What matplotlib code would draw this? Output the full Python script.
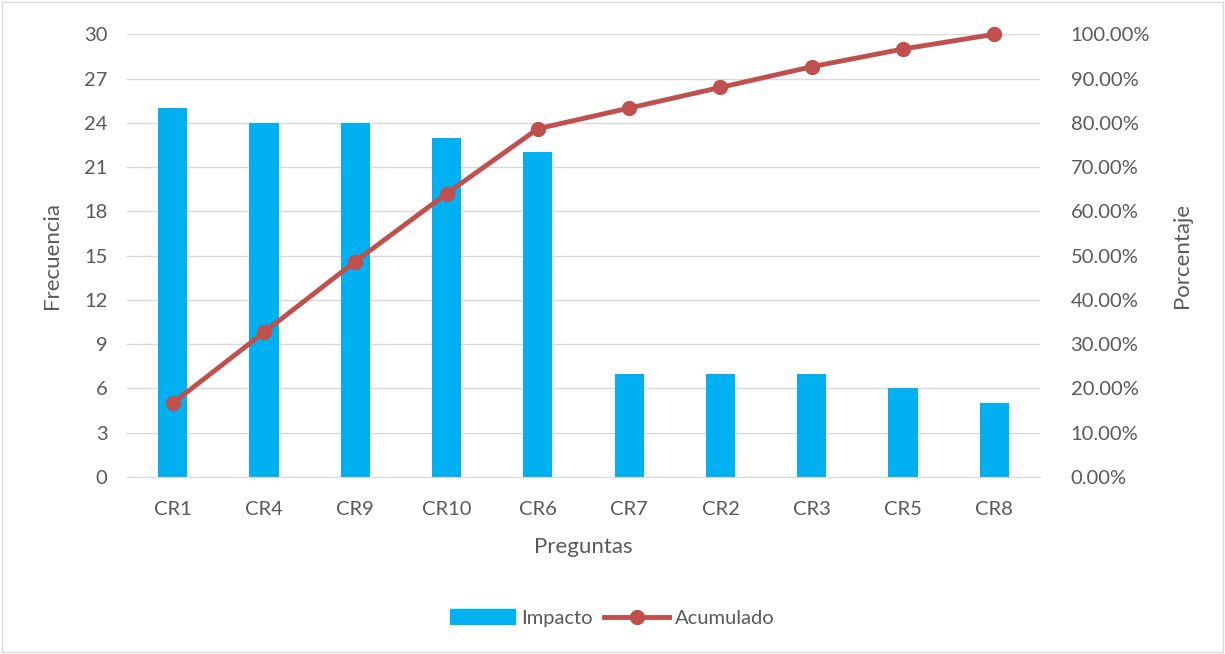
import matplotlib.pyplot as plt
from matplotlib.ticker import FuncFormatter
from matplotlib.lines import Line2D
from matplotlib.patches import Patch, Rectangle

preguntas = ["CR1", "CR4", "CR9", "CR10", "CR6", "CR7", "CR2", "CR3", "CR5", "CR8"]
impacto = [25, 24, 24, 23, 22, 7, 7, 7, 6, 5]
acumulado = [0.1667, 0.3267, 0.4867, 0.64, 0.7867, 0.8333, 0.88, 0.9267, 0.9667, 1.0]

plt.rcParams["font.family"] = ["Lato", "DejaVu Sans"]
txt = "#595959"
bar_c = "#00B0F0"
line_c = "#C0504D"

fig = plt.figure(figsize=(12.25, 6.54), dpi=100)
fig.patches.append(Rectangle((0.002, 0.003), 0.996, 0.994, transform=fig.transFigure,
                             fill=False, edgecolor="#D9D9D9", linewidth=1))
ax = fig.add_axes([0.1037, 0.2706, 0.7453, 0.677])
x = range(len(preguntas))
ax.bar(x, impacto, width=0.32, color=bar_c, zorder=2)
ax.set_xlim(-0.5, len(preguntas) - 0.5)
ax.set_ylim(0, 30)
ax.set_yticks(range(0, 31, 3))
ax.grid(axis="y", color="#D9D9D9", linewidth=1, zorder=0)
ax.set_axisbelow(True)
for s in ["top", "right", "left"]:
    ax.spines[s].set_visible(False)
ax.spines["bottom"].set_color("#D9D9D9")
ax.tick_params(axis="y", length=0, labelsize=14.5, colors=txt, pad=14)
ax.tick_params(axis="x", length=0, labelsize=14.5, colors=txt, pad=17)
ax.set_xticks(list(x))
ax.set_xticklabels(preguntas)
ax.set_ylabel("Frecuencia", fontsize=16, color=txt, labelpad=16)
ax.set_xlabel("Preguntas", fontsize=16, color=txt, labelpad=14)

ax2 = ax.twinx()
ax2.plot(x, acumulado, color=line_c, linewidth=3.5, marker="o", markersize=10,
         zorder=3, clip_on=False)
ax2.set_ylim(0, 1)
ax2.set_yticks([i / 10 for i in range(11)])
ax2.yaxis.set_major_formatter(FuncFormatter(lambda v, _: f"{v * 100:.2f}%"))
for s in ["top", "right", "left", "bottom"]:
    ax2.spines[s].set_visible(False)
ax2.tick_params(length=0, labelsize=14.5, colors=txt, pad=22)
ax2.set_ylabel("Porcentaje", fontsize=16, color=txt, labelpad=16)

handles = [Patch(color=bar_c, label="Impacto"),
           Line2D([], [], color=line_c, linewidth=3.5, marker="o", markersize=10, label="Acumulado")]
fig.legend(handles=handles, loc="center", bbox_to_anchor=(0.5, 0.055), ncol=2, frameon=False,
           fontsize=14.5, labelcolor=txt, handlelength=3.2, columnspacing=0.6, handletextpad=0.3)

fig.savefig("out.png", dpi=100)
